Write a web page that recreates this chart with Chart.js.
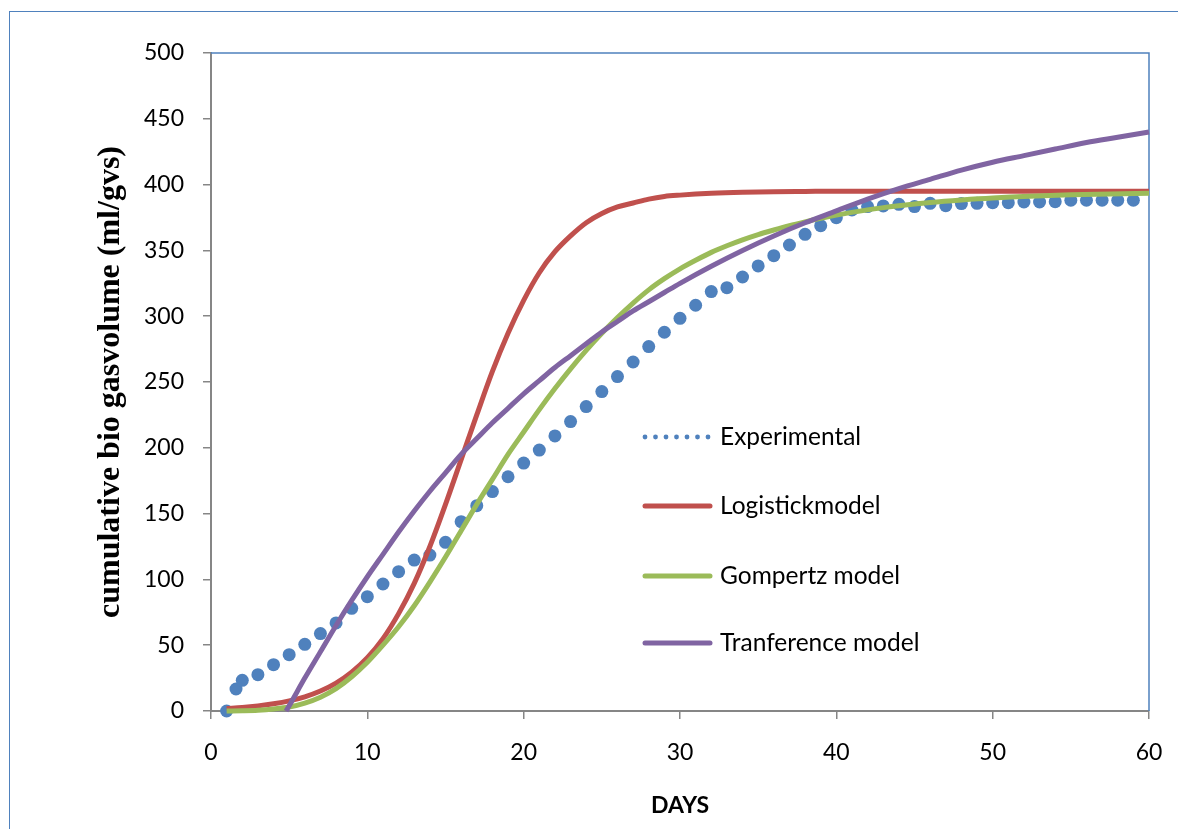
<!DOCTYPE html>
<html><head><meta charset="utf-8">
<script src="https://cdn.jsdelivr.net/npm/chart.js@4.4.1/dist/chart.umd.min.js"></script>
<style>
html,body{margin:0;padding:0;background:#fff;overflow:hidden}
#wrap{position:relative;width:1178px;height:829px;overflow:hidden}
#frame{position:absolute;left:9px;top:11px;right:-300px;bottom:-300px;border:1.5px solid #4F81BD}
canvas{position:absolute;left:0;top:0}
</style></head><body>
<div id="wrap"><div id="frame"></div><canvas id="c" width="1178" height="829"></canvas></div>
<script>
// ---- data ----
const seriesNames = ['Experimental', 'Logistickmodel', 'Gompertz model', 'Tranference model'];

const expDays = [1,1.6,2,3,4,5,6,7,8,9,10,11,12,13,14,15,16,17,18,19,20,21,22,23,24,25,26,27,28,29,30,
  31,32,33,34,35,36,37,38,39,40,41,42,43,44,45,46,47,48,49,50,51,52,53,54,55,56,57,58,59];
const expValues = [0,16.7,23.3,27.6,35.2,42.8,50.7,58.8,66.9,78,86.9,96.5,105.9,114.7,118.5,128.2,143.9,156,166.7,178,188.4,198.3,209,219.9,231.3,242.7,254.1,265.2,276.9,287.8,298.4,
  308.3,318.7,321.7,329.8,338.2,346,354.1,362.2,368.8,374.9,380.7,383.3,383.8,385,383.3,385.8,384,385.6,385.8,386.3,386.3,386.8,386.8,387,388.1,388.1,388.1,388.1,388.1];

const logDays = [1,2,3,4,5,6,7,8,9,10,11,12,13,14,15,16,17,18,19,20,21,22,23,24,25,26,27,28,29,30,32,34,36,38,40,45,50,55,60];
const logValues = [1.9,2.7,3.9,5.5,7.7,10.8,15.2,21.2,29.5,40.5,55,74,97,125,157,191,225,258,287,312,333,349,361,371,378,383,386,389,391,392,393.4,394.2,394.6,394.8,395,395,395,395,395];

const gomDays = [1,2,3,4,5,6,7,8,9,10,11,12,13,14,15,16,17,18,19,20,21,22,23,24,25,26,27,28,29,30,31,32,33,34,35,36,37,38,39,40,42,44,46,48,50,55,60];
const gomValues = [0,0.2,0.6,1.5,3,6,10.5,17,26,37,50,64,80,98,117,137,157,176,195,212,229,245,260,274,287,299,310,320,328.5,336,342.5,348.5,353.5,358,362,365.5,368.8,371.7,374.4,376.8,380.8,383.9,386.4,388.3,389.8,392.2,393.5];

const traDays = [4.8,5,6,7,8,9,10,11,12,13,14,15,16,17,18,19,20,21,22,23,24,25,26,27,28,29,30,32,34,36,38,40,42,44,46,48,50,52,54,56,58,60];
const traValues = [0,4,25,45,65,84,102,119,136,152,167,181,195,207,219,230,241,251,261,270,279,288,296,304,311,318,325,338,350,361,371,380,389,397,404,411,417,422,427,432,436,440];

const xTicks = [0,10,20,30,40,50,60];
const yTicks = [0,50,100,150,200,250,300,350,400,450,500];

// ---- styling ----
const colors = ['#4F81BD', '#C0504D', '#9BBB59', '#8064A2'];
const FONT = 'Lato, "Open Sans", sans-serif';
const pts = (xs, ys) => xs.map((x, i) => ({x: x, y: ys[i]}));

const framePlugin = {
  id: 'plotFrame',
  beforeDatasetsDraw(chart) {
    const {ctx, chartArea: a} = chart;
    ctx.save();
    ctx.strokeStyle = '#4F81BD';
    ctx.lineWidth = 1.5;
    ctx.beginPath();
    ctx.moveTo(a.left, a.top);
    ctx.lineTo(a.right, a.top);
    ctx.lineTo(a.right, a.bottom);
    ctx.stroke();
    ctx.restore();
  }
};

const legendPlugin = {
  id: 'insideLegend',
  afterDraw(chart) {
    const {ctx, chartArea: a} = chart;
    const x0 = a.left + 432, len = 67, rows = [384, 453, 523, 590];
    ctx.save();
    chart.data.datasets.forEach((ds, i) => {
      const y = a.top + rows[i];
      if (i === 0) {
        ctx.fillStyle = ds.backgroundColor;
        for (let k = 0; k < 7; k++) {
          ctx.beginPath();
          ctx.arc(x0 + 2 + k * 10.5, y, 2.4, 0, Math.PI * 2);
          ctx.fill();
        }
      } else {
        ctx.strokeStyle = ds.borderColor;
        ctx.lineWidth = 5;
        ctx.lineCap = 'round';
        ctx.beginPath();
        ctx.moveTo(x0 + 2, y);
        ctx.lineTo(x0 + len, y);
        ctx.stroke();
      }
      ctx.fillStyle = '#000';
      ctx.font = '24.5px ' + FONT;
      ctx.textBaseline = 'middle';
      ctx.textAlign = 'left';
      ctx.fillText(ds.label, x0 + 77, y);
    });
    ctx.restore();
  }
};

const lineDs = (i, xs, ys, order) => ({
  label: seriesNames[i], data: pts(xs, ys), showLine: true,
  borderColor: colors[i], backgroundColor: colors[i], borderWidth: 5,
  pointRadius: 0, cubicInterpolationMode: 'monotone', clip: false, order: order
});

new Chart(document.getElementById('c'), {
  type: 'scatter',
  data: {
    datasets: [
      {label: seriesNames[0], data: pts(expDays, expValues), showLine: false,
       backgroundColor: colors[0], borderColor: colors[0], pointRadius: 6.5, pointBorderWidth: 0,
       clip: false, order: 4},
      lineDs(1, logDays, logValues, 3),
      lineDs(2, gomDays, gomValues, 2),
      lineDs(3, traDays, traValues, 1)
    ]
  },
  options: {
    responsive: false,
    animation: false,
    devicePixelRatio: 1,
    layout: {padding: {top: 53, right: 29, left: 0, bottom: 0}},
    plugins: {legend: {display: false}, tooltip: {enabled: false}},
    scales: {
      x: {
        type: 'linear', min: 0, max: 60,
        afterBuildTicks: s => { s.ticks = xTicks.map(v => ({value: v})); },
        afterFit: s => { s.height = 118; s.paddingLeft = 0; s.paddingRight = 0; },
        ticks: {color: '#000', font: {family: FONT, size: 23}, padding: 20},
        grid: {drawOnChartArea: false, drawTicks: true, tickLength: 8, color: '#868686', lineWidth: 1.5},
        border: {color: '#868686', width: 2},
        title: {display: true, text: 'DAYS', color: '#000',
                font: {family: FONT, size: 23, weight: 'bold'}, padding: {top: 0, bottom: 10}}
      },
      y: {
        type: 'linear', min: 0, max: 500,
        afterBuildTicks: s => { s.ticks = yTicks.map(v => ({value: v})); },
        afterFit: s => { s.width = 211; s.paddingTop = 0; s.paddingBottom = 0; },
        ticks: {color: '#000', font: {family: FONT, size: 23}, padding: 19},
        grid: {drawOnChartArea: false, drawTicks: true, tickLength: 8, color: '#868686', lineWidth: 1.5},
        border: {color: '#868686', width: 2},
        title: {display: true, text: 'cumulative bio gasvolume (ml/gvs)', color: '#000',
                font: {family: '"Liberation Serif", "Times New Roman", serif', size: 32, weight: 'bold'},
                padding: {top: 92, bottom: 0}}
      }
    }
  },
  plugins: [framePlugin, legendPlugin]
});
</script>
</body></html>
